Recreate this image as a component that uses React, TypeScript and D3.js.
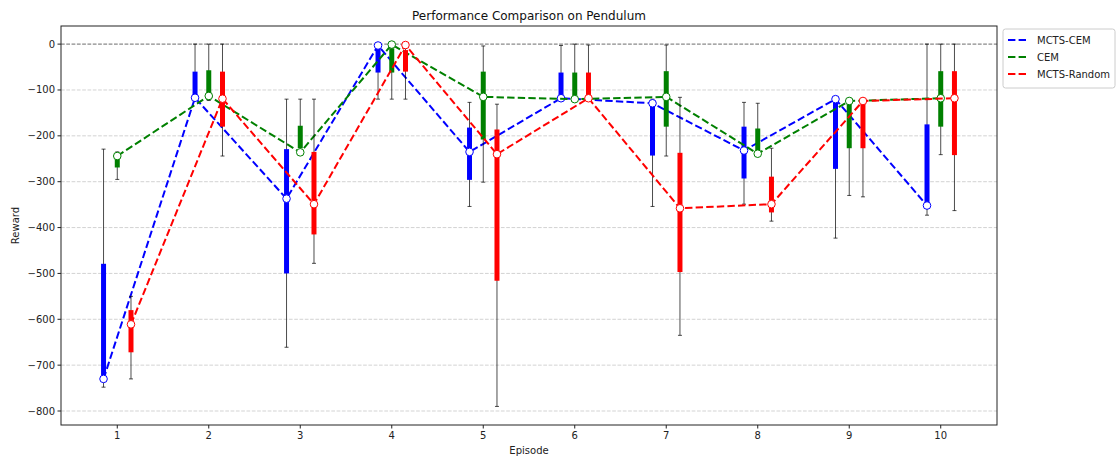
import React from 'react';
import * as d3 from 'd3';

const width = 1120,
  height = 457;
const margin = { left: 61, right: 123, top: 26, bottom: 32 };

const episodes = [1, 2, 3, 4, 5, 6, 7, 8, 9, 10];
const methods = ['MCTS-CEM', 'CEM', 'MCTS-Random'];
const colors = ['blue', 'green', 'red'];
const offsets = [-0.15, 0, 0.15];

// marker values (median) per episode
const cemMctsMed = [-730, -117, -337, -3, -235, -118, -129, -232, -120, -352];
const cemMed = [-244, -113, -236, -1, -115, -120, -115, -239, -124, -118];
const randomMed = [-611, -119, -349, -2, -240, -118, -358, -349, -124, -118];

// thick bar: upper and lower quartile
const cemMctsQ3 = [-479, -60, -229, -9, -182, -62, -129, -180, -120, -175];
const cemMctsQ1 = [-728, -117, -500, -62, -296, -118, -243, -293, -272, -352];
const cemQ3 = [-237, -57, -178, -9, -60, -62, -59, -184, -127, -59];
const cemQ1 = [-269, -122, -227, -62, -208, -115, -180, -233, -227, -180];
const randomQ3 = [-580, -60, -235, -13, -186, -62, -237, -289, -125, -59];
const randomQ1 = [-672, -180, -415, -60, -516, -119, -497, -367, -227, -242];

// whiskers: best and worst episode reward
const cemMctsMax = [-229, 0, -120, 0, -127, -3, -120, -127, -120, 0];
const cemMctsMin = [-748, -120, -661, -120, -354, -120, -354, -349, -423, -373];
const cemMax = [-235, 0, -120, 0, -4, 0, -2, -129, -124, 0];
const cemMin = [-295, -123, -238, -120, -301, -121, -244, -240, -330, -241];
const randomMax = [-550, 0, -120, 0, -131, -2, -116, -227, -124, 0];
const randomMin = [-730, -244, -478, -120, -790, -120, -635, -386, -333, -363];

const yTicks = [0, -100, -200, -300, -400, -500, -600, -700, -800];

const series = [
  { med: cemMctsMed, q1: cemMctsQ1, q3: cemMctsQ3, lo: cemMctsMin, hi: cemMctsMax },
  { med: cemMed, q1: cemQ1, q3: cemQ3, lo: cemMin, hi: cemMax },
  { med: randomMed, q1: randomQ1, q3: randomQ3, lo: randomMin, hi: randomMax },
];

const font = 'DejaVu Sans, sans-serif';

export default function App() {
  const x = d3
    .scaleLinear()
    .domain([0.385, 10.615])
    .range([margin.left, width - margin.right]);
  const y = d3
    .scaleLinear()
    .domain([-830.5, 39.5])
    .range([height - margin.bottom, margin.top]);

  const line = d3
    .line<number>()
    .x((d, i) => x(episodes[i]))
    .y((d) => y(d));

  const fmt = (v: number) => (v < 0 ? '\u2212' + Math.abs(v) : String(v));
  const x0 = margin.left,
    x1 = width - margin.right,
    y0 = margin.top,
    y1 = height - margin.bottom;

  return (
    <svg
      width={width}
      height={height}
      style={{ position: 'absolute', left: 0, top: 0, background: 'white' }}
      fontFamily={font}
    >
      {/* grid */}
      {yTicks.map((t) => (
        <line
          key={'g' + t}
          x1={x0}
          x2={x1}
          y1={y(t)}
          y2={y(t)}
          stroke="#b0b0b0"
          strokeOpacity={0.7}
          strokeDasharray="3.7,1.6"
          strokeWidth={0.8}
        />
      ))}
      <line x1={x0} x2={x1} y1={y(0)} y2={y(0)} stroke="gray" strokeDasharray="3.7,1.6" strokeWidth={1} />

      {series.map((s, k) => {
        const px = (i: number) => x(episodes[i] + offsets[k]);
        const shifted = d3
          .line<number>()
          .x((d, i) => px(i))
          .y((d) => y(d));
        return (
          <g key={'s' + k}>
            {episodes.map((e, i) => (
              <g key={'w' + i} stroke="black" strokeOpacity={0.7} strokeWidth={1}>
                <line x1={px(i)} x2={px(i)} y1={y(s.hi[i])} y2={y(s.lo[i])} />
                <line x1={px(i) - 2} x2={px(i) + 2} y1={y(s.hi[i])} y2={y(s.hi[i])} />
                <line x1={px(i) - 2} x2={px(i) + 2} y1={y(s.lo[i])} y2={y(s.lo[i])} />
              </g>
            ))}
            {episodes.map((e, i) => (
              <line
                key={'b' + i}
                x1={px(i)}
                x2={px(i)}
                y1={y(s.q3[i])}
                y2={y(s.q1[i])}
                stroke={colors[k]}
                strokeWidth={5}
              />
            ))}
            <path
              d={shifted(s.med) || ''}
              fill="none"
              stroke={colors[k]}
              strokeWidth={2}
              strokeDasharray="7.4,3.2"
            />
            {s.med.map((v, i) => (
              <circle key={'m' + i} cx={px(i)} cy={y(v)} r={3.8} fill="white" stroke={colors[k]} strokeWidth={1} />
            ))}
          </g>
        );
      })}

      {/* frame */}
      <rect x={x0} y={y0} width={x1 - x0} height={y1 - y0} fill="none" stroke="#222" strokeWidth={1} />

      {/* x axis */}
      {episodes.map((e) => (
        <g key={'xt' + e}>
          <line x1={x(e)} x2={x(e)} y1={y1} y2={y1 + 3.5} stroke="#222" />
          <text x={x(e)} y={y1 + 14} fontSize={10} textAnchor="middle" fill="#222">
            {e}
          </text>
        </g>
      ))}
      <text x={(x0 + x1) / 2} y={y1 + 29} fontSize={10} textAnchor="middle" fill="#222">
        Episode
      </text>

      {/* y axis */}
      {yTicks.map((t) => (
        <g key={'yt' + t}>
          <line x1={x0 - 3.5} x2={x0} y1={y(t)} y2={y(t)} stroke="#222" />
          <text x={x0 - 6} y={y(t) + 3.5} fontSize={10} textAnchor="end" fill="#222">
            {fmt(t)}
          </text>
        </g>
      ))}
      <text
        transform={`translate(${19},${(y0 + y1) / 2}) rotate(-90)`}
        fontSize={10}
        textAnchor="middle"
        fill="#222"
      >
        Reward
      </text>

      <text x={(x0 + x1) / 2} y={y0 - 6} fontSize={12} textAnchor="middle" fill="#111">
        Performance Comparison on Pendulum
      </text>

      {/* legend */}
      <g>
        <rect x={1003} y={29} width={112} height={59} rx={2.5} fill="white" fillOpacity={0.8} stroke="#ccc" />
        {methods.map((m, i) => (
          <g key={'l' + i}>
            <line
              x1={1008}
              x2={1028}
              y1={40 + i * 17}
              y2={40 + i * 17}
              stroke={colors[i]}
              strokeWidth={2}
              strokeDasharray="7.4,3.2"
            />
            <text x={1037} y={40 + i * 17 + 3.5} fontSize={10} fill="#222">
              {m}
            </text>
          </g>
        ))}
      </g>
    </svg>
  );
}
